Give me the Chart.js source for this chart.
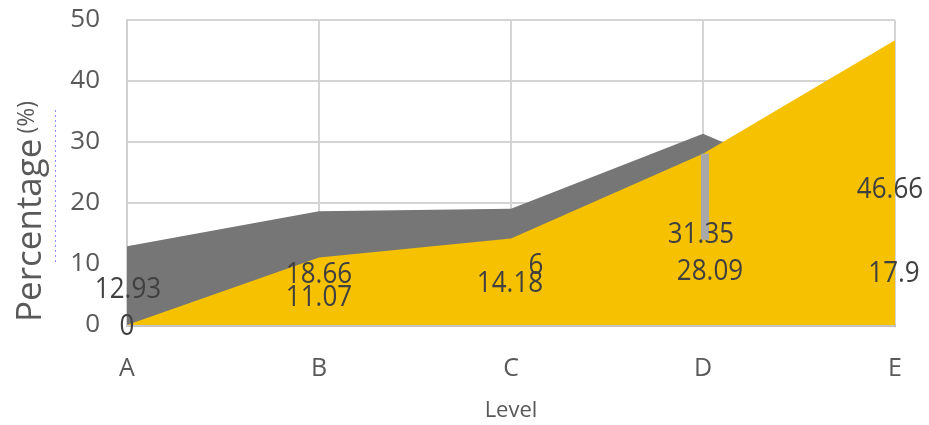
<!DOCTYPE html>
<html>
<head>
<meta charset="utf-8">
<script src="https://cdn.jsdelivr.net/npm/chart.js@4/dist/chart.umd.min.js"></script>
<style>
  html, body { margin: 0; padding: 0; background: #ffffff; }
  #wrap { width: 929px; height: 425px; position: relative; }
</style>
</head>
<body>
<div id="wrap"><canvas id="chart" width="929" height="425"></canvas></div>
<script>
// Categories and series
const levels = ['A', 'B', 'C', 'D', 'E'];
const graySeries = [12.93, 18.66, 19.06, 31.35, 17.9];
const yellowSeries = [0, 11.07, 14.18, 28.09, 46.66];
const yTicks = [0, 10, 20, 30, 40, 50];

// Text shown next to each point (the C label of the gray series is partly hidden)
const grayLabelText = ['12.93', '18.66', '6', '31.35', '17.9'];
const yellowLabelText = yellowSeries.map(v => String(v));

// Label placement, in pixels relative to the point it belongs to
const grayLabelShift = [[1, 44], [0, 64], [25, 57], [-2, 101], [-1, 58]];
const yellowLabelShift = [[0, 2], [0, 40], [-1, 45], [7, 118], [-5, 149]];

const GRAY = '#767676';
const YELLOW = '#F5C100';
const TEXT = '#404040';
const AXIS_TEXT = '#595959';

const overlay = {
  id: 'overlay',
  afterDatasetsDraw(chart) {
    const { ctx, scales } = chart;
    const xs = scales.x, ys = scales.y;
    ctx.save();

    // drop bar under the D point, running down into its label
    const dx = xs.getPixelForValue(3) + 2;
    const top = ys.getPixelForValue(yellowSeries[3]);
    const bottom = ys.getPixelForValue(graySeries[3]) + grayLabelShift[3][1] + 5;
    ctx.fillStyle = '#a8a8a8';
    ctx.fillRect(dx - 4, top, 8, bottom - top);

    // value labels
    ctx.font = '26px "Open Sans"';
    ctx.fillStyle = TEXT;
    ctx.textAlign = 'center';
    ctx.textBaseline = 'middle';
    const put = (txt, i, v, shift) => {
      const x = xs.getPixelForValue(i) + shift[0];
      const y = ys.getPixelForValue(v) + shift[1];
      ctx.save();
      ctx.translate(x, y);
      ctx.scale(1, 1.12);
      ctx.fillText(txt, 0, 0);
      ctx.restore();
    };
    levels.forEach((_, i) => {
      put(grayLabelText[i], i, graySeries[i], grayLabelShift[i]);
      put(yellowLabelText[i], i, yellowSeries[i], yellowLabelShift[i]);
    });

    // vertical axis title
    ctx.translate(31, 322);
    ctx.rotate(-Math.PI / 2);
    ctx.textAlign = 'left';
    ctx.fillStyle = AXIS_TEXT;
    ctx.font = '35px "Open Sans"';
    ctx.fillText('Percentage', 0, 0);
    const w = ctx.measureText('Percentage').width;
    ctx.font = '23px "Open Sans"';
    ctx.fillText('(%)', w + 5, -4);
    ctx.restore();

    // faint dotted guide left of the ticks
    ctx.save();
    ctx.strokeStyle = 'rgba(90,90,255,0.7)';
    ctx.lineWidth = 1;
    ctx.setLineDash([2, 3]);
    ctx.beginPath();
    ctx.moveTo(55.5, 110);
    ctx.lineTo(55.5, 262);
    ctx.stroke();
    ctx.restore();
  }
};

new Chart(document.getElementById('chart'), {
  type: 'line',
  data: {
    labels: levels,
    datasets: [
      {
        label: 'Yellow',
        data: yellowSeries,
        backgroundColor: YELLOW,
        borderColor: YELLOW,
        borderWidth: 0,
        pointRadius: 0,
        fill: 'origin',
        tension: 0,
        order: 0
      },
      {
        label: 'Gray',
        data: graySeries,
        backgroundColor: GRAY,
        borderColor: GRAY,
        borderWidth: 0,
        pointRadius: 0,
        fill: 'origin',
        tension: 0,
        order: 1
      }
    ]
  },
  options: {
    responsive: false,
    animation: false,
    devicePixelRatio: 1,
    layout: { padding: { top: 20, right: 34, left: 0, bottom: 0 } },
    plugins: {
      legend: { display: false },
      tooltip: { enabled: false }
    },
    scales: {
      x: {
        offset: false,
        grid: { color: '#d4d4d4', lineWidth: 2, drawTicks: false },
        border: { color: '#c4c4c4', width: 3 },
        ticks: {
          color: AXIS_TEXT,
          font: { family: 'Open Sans', size: 25 },
          padding: 29,
          maxRotation: 0
        },
        title: {
          display: true,
          text: 'Level',
          color: AXIS_TEXT,
          font: { family: 'Open Sans', size: 22 },
          padding: { top: 0, bottom: 1 }
        },
        afterFit(scale) {
          scale.height = 100;
          scale.paddingLeft = 0;
          scale.paddingRight = 0;
        }
      },
      y: {
        min: 0,
        max: 50,
        afterBuildTicks(scale) { scale.ticks = yTicks.map(v => ({ value: v })); },
        grid: { color: '#d4d4d4', lineWidth: 2, drawTicks: false },
        border: { color: '#d0d0d0', width: 2 },
        ticks: {
          color: AXIS_TEXT,
          font: { family: 'Open Sans', size: 26 },
          padding: 27
        },
        afterFit(scale) {
          scale.width = 127;
          scale.paddingTop = 0;
          scale.paddingBottom = 0;
        }
      }
    }
  },
  plugins: [overlay]
});
</script>
</body>
</html>
